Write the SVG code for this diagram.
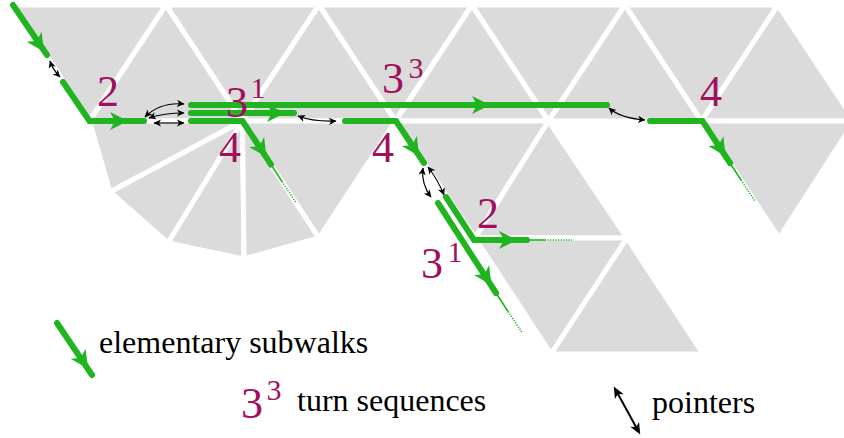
<svg xmlns="http://www.w3.org/2000/svg" width="844" height="438" viewBox="0 0 844 438">
<rect width="844" height="438" fill="#fff"/>

<g id="lattice" fill="#dbdbdb" stroke="#fff" stroke-width="5" stroke-linejoin="round">
<polygon points="13,5 166,5 89.5,121"/>
<polygon points="166,5 89.5,121 242.5,121"/>
<polygon points="166,5 319,5 242.5,121"/>
<polygon points="319,5 242.5,121 395.5,121"/>
<polygon points="319,5 472,5 395.5,121"/>
<polygon points="472,5 395.5,121 548.5,121"/>
<polygon points="472,5 625,5 548.5,121"/>
<polygon points="625,5 548.5,121 701.5,121"/>
<polygon points="625,5 778,5 701.5,121"/>
<polygon points="778,5 701.5,121 854.5,121"/>
<polygon points="242.5,121 89.5,121 110,192"/>
<polygon points="242.5,121 110,192 168,243"/>
<polygon points="242.5,121 168,243 244,259"/>
<polygon points="242.5,121 244,259 319,238"/>
<polygon points="242.5,121 395.5,121 319,238"/>
<polygon points="395.5,121 548.5,121 475,238"/>
<polygon points="548.5,121 475,238 627,238"/>
<polygon points="701.5,121 854.5,121 779,238"/>
<polygon points="475,238 627,238 551,354"/>
<polygon points="627,238 551,354 703,354"/>
</g>

<g id="connectors">
<g fill="none" stroke="#000" stroke-width="1.2">
<path d="M50,61 Q53,70 60,77"/>
<path d="M145,117 Q160,102 184,104"/>
<path d="M149,118 Q164,113 184,113"/>
<path d="M154,123 L184,123"/>
<path d="M298,116 Q314,122 336,121"/>
<path d="M423,168 Q421,184 431,197"/>
<path d="M428,167 Q438,180 444,195"/>
<path d="M609,108 Q620,118 645,120"/>
</g>
<g fill="#000">
<path transform="translate(50,61) rotate(-108.4)" d="M0.5,0 L-7,-3.6 L-5,0 L-7,3.6 Z"/>
<path transform="translate(60,77) rotate(45)" d="M0.5,0 L-7,-3.6 L-5,0 L-7,3.6 Z"/>
<path transform="translate(145,117) rotate(135)" d="M0.5,0 L-7,-3.6 L-5,0 L-7,3.6 Z"/>
<path transform="translate(184,104) rotate(4.8)" d="M0.5,0 L-7,-3.6 L-5,0 L-7,3.6 Z"/>
<path transform="translate(149,118) rotate(161.6)" d="M0.5,0 L-7,-3.6 L-5,0 L-7,3.6 Z"/>
<path transform="translate(184,113)" d="M0.5,0 L-7,-3.6 L-5,0 L-7,3.6 Z"/>
<path transform="translate(154,123) rotate(180)" d="M0.5,0 L-7,-3.6 L-5,0 L-7,3.6 Z"/>
<path transform="translate(184,123)" d="M0.5,0 L-7,-3.6 L-5,0 L-7,3.6 Z"/>
<path transform="translate(298,116) rotate(-159.4)" d="M0.5,0 L-7,-3.6 L-5,0 L-7,3.6 Z"/>
<path transform="translate(336,121) rotate(-2.6)" d="M0.5,0 L-7,-3.6 L-5,0 L-7,3.6 Z"/>
<path transform="translate(423,168) rotate(-82.9)" d="M0.5,0 L-7,-3.6 L-5,0 L-7,3.6 Z"/>
<path transform="translate(431,197) rotate(52.4)" d="M0.5,0 L-7,-3.6 L-5,0 L-7,3.6 Z"/>
<path transform="translate(428,167) rotate(-127.6)" d="M0.5,0 L-7,-3.6 L-5,0 L-7,3.6 Z"/>
<path transform="translate(444,195) rotate(68.2)" d="M0.5,0 L-7,-3.6 L-5,0 L-7,3.6 Z"/>
<path transform="translate(609,108) rotate(-137.7)" d="M0.5,0 L-7,-3.6 L-5,0 L-7,3.6 Z"/>
<path transform="translate(645,120) rotate(4.6)" d="M0.5,0 L-7,-3.6 L-5,0 L-7,3.6 Z"/>
</g>
</g>

<g id="walks" fill="#20b420">
<g id="walk-1">
<path fill="none" stroke="#20b420" stroke-width="6" stroke-linecap="round" d="M13,5 L47,55"/>
<path transform="translate(43,50) rotate(56)" d="M2,0 L-16,-9 L-11,0 L-16,9 Z"/>
</g>
<g id="walk-2">
<path fill="none" stroke="#20b420" stroke-width="6" stroke-linecap="round" d="M63,82 L89.5,121 L144,121"/>
<path transform="translate(126,121)" d="M2,0 L-16,-9 L-11,0 L-16,9 Z"/>
</g>
<g id="walk-3-3">
<path fill="none" stroke="#20b420" stroke-width="6" stroke-linecap="round" d="M191,105 L607,105"/>
<path transform="translate(488,105)" d="M2,0 L-16,-9 L-11,0 L-16,9 Z"/>
</g>
<g id="walk-3-1">
<path fill="none" stroke="#20b420" stroke-width="6" stroke-linecap="round" d="M191,113 L294,113"/>
<path transform="translate(283,113)" d="M2,0 L-16,-9 L-11,0 L-16,9 Z"/>
</g>
<g id="walk-4a">
<path fill="none" stroke="#20b420" stroke-width="6" stroke-linecap="round" d="M191,121 L242.5,121 L271,164.6"/>
<path transform="translate(265.3,155.4) rotate(57)" d="M2,0 L-16,-9 L-11,0 L-16,9 Z"/>
<path fill="none" stroke="#20b420" stroke-width="1.6" d="M271,164.6 L282,181.5"/>
<path fill="none" stroke="#20b420" stroke-width="1.6" stroke-dasharray="1.2 1.4" d="M282,181.5 L296.4,203.2"/>
</g>
<g id="walk-4b">
<path fill="none" stroke="#20b420" stroke-width="6" stroke-linecap="round" d="M345,121 L396,121 L424,163"/>
<path transform="translate(418,154.4) rotate(57)" d="M2,0 L-16,-9 L-11,0 L-16,9 Z"/>
</g>
<g id="walk-2b">
<path fill="none" stroke="#20b420" stroke-width="6" stroke-linecap="round" d="M446,197 L474,240 L527,240"/>
<path transform="translate(515,240)" d="M2,0 L-16,-9 L-11,0 L-16,9 Z"/>
<path fill="none" stroke="#20b420" stroke-width="1.6" d="M527,240 L545,240"/>
<path fill="none" stroke="#20b420" stroke-width="1.6" stroke-dasharray="1.2 1.4" d="M545,240 L572,240"/>
</g>
<g id="walk-3-1b">
<path fill="none" stroke="#20b420" stroke-width="6" stroke-linecap="round" d="M438,203 L496,293"/>
<path transform="translate(490.3,283.5) rotate(57)" d="M2,0 L-16,-9 L-11,0 L-16,9 Z"/>
<path fill="none" stroke="#20b420" stroke-width="1.6" d="M496,293 L508,311.5"/>
<path fill="none" stroke="#20b420" stroke-width="1.6" stroke-dasharray="1.2 1.4" d="M508,311.5 L522.5,333"/>
</g>
<g id="walk-4c">
<path fill="none" stroke="#20b420" stroke-width="6" stroke-linecap="round" d="M650,121 L702.5,121 L730,163"/>
<path transform="translate(724.5,154.5) rotate(57)" d="M2,0 L-16,-9 L-11,0 L-16,9 Z"/>
<path fill="none" stroke="#20b420" stroke-width="1.6" d="M730,163 L741,180"/>
<path fill="none" stroke="#20b420" stroke-width="1.6" stroke-dasharray="1.2 1.4" d="M741,180 L755,201"/>
</g>
</g>

<g id="labels" fill="#a0105e" text-anchor="middle">
<text x="108" y="106" font-size="44" font-family="Liberation Serif">2</text>
<text x="237" y="117" font-size="44" font-family="Liberation Serif">3</text>
<text x="258" y="98" font-size="30" font-family="Liberation Serif">1</text>
<text x="393" y="93" font-size="44" font-family="Liberation Serif">3</text>
<text x="416" y="78" font-size="30" font-family="Liberation Serif">3</text>
<text x="230" y="162" font-size="44" font-family="Liberation Serif">4</text>
<text x="383" y="162" font-size="44" font-family="Liberation Serif">4</text>
<text x="711" y="106" font-size="44" font-family="Liberation Serif">4</text>
<text x="488" y="228" font-size="44" font-family="Liberation Serif">2</text>
<text x="432" y="278" font-size="44" font-family="Liberation Serif">3</text>
<text x="455" y="262" font-size="30" font-family="Liberation Serif">1</text>
</g>

<g id="legend">
<path fill="none" stroke="#20b420" stroke-width="6" stroke-linecap="round" d="M57,323 L92,375"/>
<path fill="#20b420" transform="translate(87,367) rotate(56)" d="M2,0 L-16,-9 L-11,0 L-16,9 Z"/>
<text x="99" y="353" font-size="32" fill="#000" font-family="Liberation Serif">elementary subwalks</text>
<text x="252" y="418" font-size="44" fill="#a0105e" text-anchor="middle" font-family="Liberation Serif">3</text>
<text x="274" y="400" font-size="30" fill="#a0105e" text-anchor="middle" font-family="Liberation Serif">3</text>
<text x="297" y="411" font-size="32" fill="#000" font-family="Liberation Serif">turn sequences</text>
<path fill="none" stroke="#000" stroke-width="2" d="M615.5,389.6 L638.5,431.4"/>
<path fill="#000" transform="translate(614,387) rotate(-118.95)" d="M0.5,0 L-11,-5 L-8,0 L-11,5 Z"/>
<path fill="#000" transform="translate(640,434) rotate(61.05)" d="M0.5,0 L-11,-5 L-8,0 L-11,5 Z"/>
<text x="652" y="413" font-size="32" fill="#000" font-family="Liberation Serif">pointers</text>
</g>
</svg>
